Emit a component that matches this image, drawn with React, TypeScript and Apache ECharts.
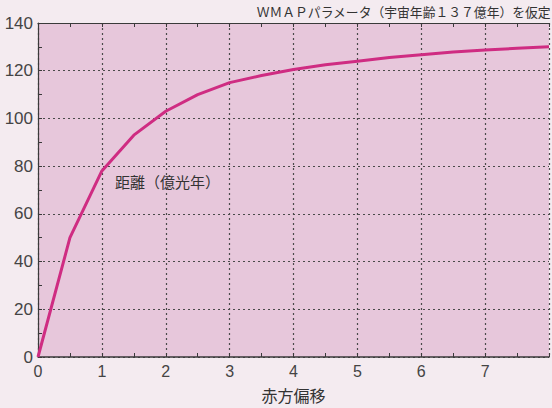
import React, { useEffect, useRef } from "react";
import * as echarts from "echarts";

const redshift = [0, 0.5, 1, 1.5, 2, 2.5, 3, 3.5, 4, 4.5, 5, 5.5, 6, 6.5, 7, 7.5, 8];
const distance = [0, 50, 78, 93, 103, 110, 115, 118, 120.5, 122.5, 124, 125.5, 126.7, 127.8, 128.7, 129.4, 130];
const titleText = "ＷＭＡＰパラメータ（宇宙年齢１３７億年）を仮定";
const seriesLabel = "距離（億光年）";
const xName = "赤方偏移";

const FONT = "'Noto Sans CJK JP', 'Liberation Sans', sans-serif";

export default function App() {
  const ref = useRef<HTMLDivElement>(null);
  useEffect(() => {
    if (!ref.current) return;
    const chart = echarts.init(ref.current, undefined, { renderer: "svg" });
    const axisColor = "#3a3a3a";
    chart.setOption({
      animation: false,
      backgroundColor: "#f4ebf0",
      grid: { left: 38, top: 23, right: -3, bottom: 49, show: true, backgroundColor: "#e7c7db", borderWidth: 0 },
      xAxis: [
        {
          type: "value",
          min: 0,
          max: 8,
          interval: 1,
          name: xName,
          nameLocation: "middle",
          nameGap: 30,
          nameTextStyle: { fontSize: 16, color: "#333", fontFamily: FONT },
          axisLine: { lineStyle: { color: axisColor, width: 1.5 } },
          axisTick: { inside: true, length: 4, lineStyle: { color: axisColor } },
          minorTick: { show: true, splitNumber: 2, length: 4, lineStyle: { color: axisColor } },
          axisLabel: { fontSize: 16, color: "#444", margin: 6, fontFamily: "'Liberation Sans', sans-serif", formatter: (v: number) => (v >= 8 ? "" : String(v)) },
          splitLine: { show: true, lineStyle: { color: "#4a4a4a", type: [2, 3], width: 1.2 } },
        },
        {
          type: "value",
          position: "top",
          min: 0,
          max: 8,
          interval: 1,
          axisLine: { show: true, lineStyle: { color: axisColor, width: 1.2 } },
          axisTick: { inside: true, length: 4, lineStyle: { color: axisColor } },
          minorTick: { show: true, splitNumber: 2, length: 4, lineStyle: { color: axisColor } },
          axisLabel: { show: false },
          splitLine: { show: false },
        },
      ],
      yAxis: {
        type: "value",
        min: 0,
        max: 140,
        interval: 20,
        axisLine: { show: true, lineStyle: { color: axisColor, width: 1.2 } },
        axisTick: { inside: true, length: 4, lineStyle: { color: axisColor } },
        minorTick: { show: true, splitNumber: 2, length: 4, lineStyle: { color: axisColor } },
        axisLabel: { fontSize: 17, color: "#444", margin: 5, fontFamily: "'Liberation Sans Narrow', 'Liberation Sans', sans-serif" },
        splitLine: { show: true, lineStyle: { color: "#4a4a4a", type: [2, 3], width: 1.2 } },
      },
      series: [
        {
          type: "line",
          data: redshift.map((z, i) => [z, distance[i]]),
          showSymbol: false,
          lineStyle: { color: "#cf2c82", width: 3 },
          clip: true,
        },
      ],
      graphic: [
        {
          type: "text",
          right: 1,
          top: 5,
          style: { text: titleText, fontSize: 12.8, fill: "#333", fontFamily: FONT },
        },
        {
          type: "text",
          left: 115,
          top: 174,
          style: { text: seriesLabel, fontSize: 15, fill: "#333", fontFamily: FONT },
        },
      ],
    });
    return () => chart.dispose();
  }, []);
  return <div ref={ref} style={{ width: 552, height: 408, position: "absolute", left: 0, top: 0 }} />;
}
